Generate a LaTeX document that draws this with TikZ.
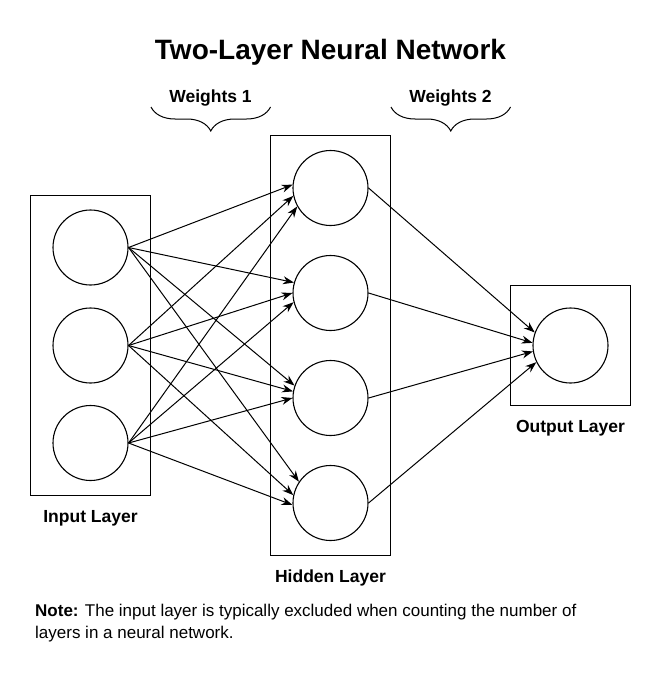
\documentclass[tikz,border=0pt]{standalone}
\usepackage{fontspec}
\setmainfont{Liberation Sans}
\usetikzlibrary{arrows.meta,decorations.pathreplacing}
\begin{document}
\begin{tikzpicture}[x=1pt,y=-1pt,
  neuron/.style={circle, draw, line width=1.1pt, minimum size=75pt, inner sep=0pt},
  layer/.style={rectangle, draw, line width=1.1pt, inner sep=0pt},
  arr/.style={line width=1pt, -{Stealth[length=11pt,width=8pt]}},
  lbl/.style={font=\fontsize{17.5}{21}\selectfont\bfseries},
  brc/.style={line width=1pt, decorate, decoration={brace, amplitude=24pt}}]
\useasboundingbox (0,0) rectangle (666,677);
\node[font=\fontsize{28}{34}\selectfont\bfseries] (title) at (330.5,52) {Two-Layer Neural Network};
% layers
\node[layer, minimum width=120pt, minimum height=300pt] (inbox) at (90.5,345.5){};
\node[layer, minimum width=120pt, minimum height=420pt] (hidbox) at (330.5,345.5){};
\node[layer, minimum width=120pt, minimum height=120pt] (outbox) at (570.5,345.5){};
\node[neuron] (inp1) at (90.5,247.5){};
\node[neuron] (inp2) at (90.5,345.5){};
\node[neuron] (inp3) at (90.5,443){};
\node[neuron] (hid1) at (330.5,188){};
\node[neuron] (hid2) at (330.5,293){};
\node[neuron] (hid3) at (330.5,398){};
\node[neuron] (hid4) at (330.5,503){};
\node[neuron] (out1) at (570.5,345.5){};
\node[lbl] (inlbl) at (90.5,518) {Input Layer};
\node[lbl] (hidlbl) at (330.5,578) {Hidden Layer};
\node[lbl] (outlbl) at (570.5,428) {Output Layer};
% weights
\draw[arr](inp1.east) -- (hid1.175);
\draw[arr](inp2.east) -- (hid1.192);
\draw[arr](inp3.east) -- (hid1.209);
\draw[arr](inp1.east) -- (hid2.164);
\draw[arr](inp2.east) -- (hid2.180);
\draw[arr](inp3.east) -- (hid2.194);
\draw[arr](inp1.east) -- (hid3.161);
\draw[arr](inp2.east) -- (hid3.170);
\draw[arr](inp3.east) -- (hid3.180);
\draw[arr](inp1.east) -- (hid4.146);
\draw[arr](inp2.east) -- (hid4.168);
\draw[arr](inp3.east) -- (hid4.183);
\draw[arr](hid1.east) -- (out1.160);
\draw[arr](hid2.east) -- (out1.176);
\draw[arr](hid3.east) -- (out1.189);
\draw[arr](hid4.east) -- (out1.206);
% braces
\coordinate (w1l) at (151,107);
\coordinate (w1r) at (270.5,107);
\coordinate (w2l) at (391,107);
\coordinate (w2r) at (510.5,107);
\draw[brc](w1r) -- (w1l);
\draw[brc](w2r) -- (w2l);
\node[lbl] (w1lbl) at (210.5,98) {Weights 1};
\node[lbl] (w2lbl) at (450.5,98) {Weights 2};
\node[anchor=north west, align=left, inner sep=0pt, font=\fontsize{17}{22}\selectfont] (note) at (35,603.5)
  {\textbf{Note:} The input layer is typically excluded when counting the number of\\layers in a neural network.};
\end{tikzpicture}
\end{document}
